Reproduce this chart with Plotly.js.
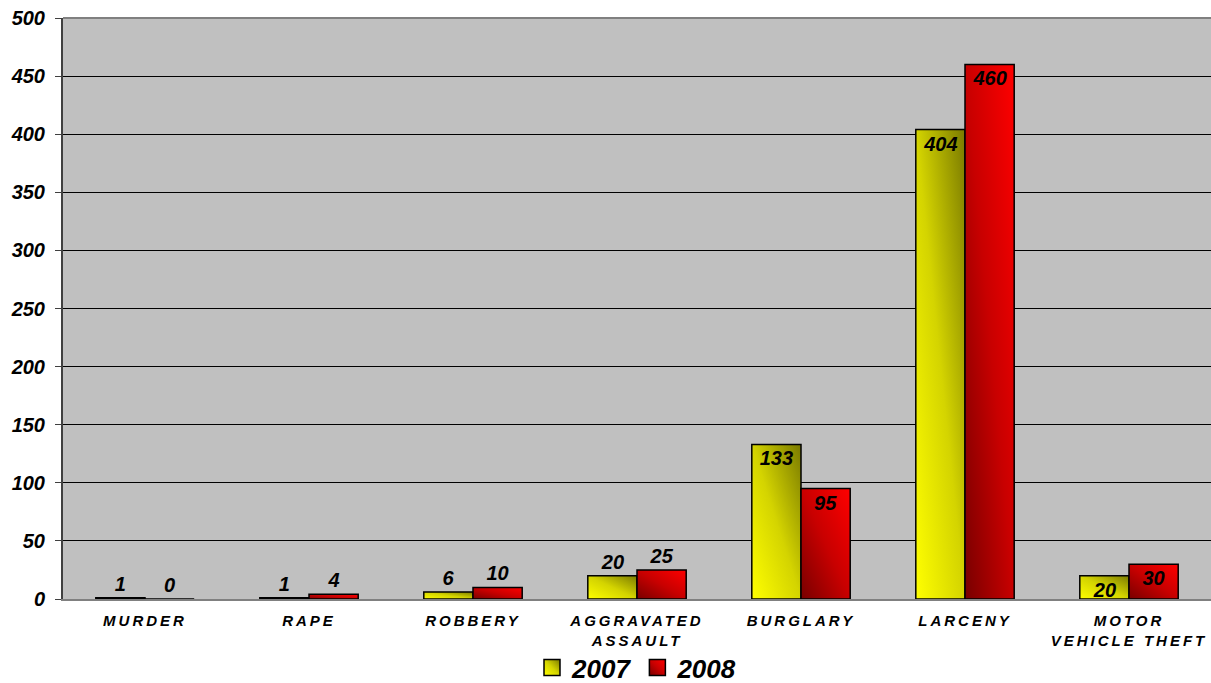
<!DOCTYPE html>
<html>
<head>
<meta charset="utf-8">
<script src="https://cdn.plot.ly/plotly-3.0.1.min.js"></script>
<style>
html,body{margin:0;padding:0;background:#fff;}
#chart{width:1211px;height:683px;}
.xtick text{letter-spacing:3px;}
.ytick text, .xtick text, .legendtext, .bartext{font-style:italic !important;font-weight:bold !important;}
</style>
</head>
<body>
<div id="chart"></div>
<script>
const categories = ["MURDER", "RAPE", "ROBBERY", "AGGRAVATED<br>ASSAULT", "BURGLARY", "LARCENY", "MOTOR<br>VEHICLE THEFT"];
const values2007 = [1, 1, 6, 20, 133, 404, 20];
const values2008 = [0, 4, 10, 25, 95, 460, 30];
const labelPos2007 = ["outside", "outside", "outside", "outside", "inside", "inside", "inside"];
const labelPos2008 = ["outside", "outside", "outside", "outside", "inside", "inside", "inside"];
const yTicks = [0, 50, 100, 150, 200, 250, 300, 350, 400, 450, 500];

const labelFont = {family: "Liberation Sans, Arial, sans-serif", size: 20, color: "#000", weight: "bold", style: "italic"};

const traces = [
  {
    type: "bar", name: "2007", x: categories, y: values2007,
    text: values2007.map(String), textposition: labelPos2007,
    insidetextanchor: "end", textangle: 0, constraintext: "none",
    textfont: labelFont, insidetextfont: labelFont, outsidetextfont: labelFont,
    cliponaxis: false,
    marker: {color: "#E0E000", line: {color: "#000", width: 1.5}}
  },
  {
    type: "bar", name: "2008", x: categories, y: values2008,
    text: values2008.map(String), textposition: labelPos2008,
    insidetextanchor: "end", textangle: 0, constraintext: "none",
    textfont: labelFont, insidetextfont: labelFont, outsidetextfont: labelFont,
    cliponaxis: false,
    marker: {color: "#D00000", line: {color: "#000", width: 1.5}}
  }
];

const layout = {
  width: 1211, height: 683,
  margin: {l: 63, r: 0, t: 18, b: 84, pad: 0, autoexpand: false},
  paper_bgcolor: "#ffffff",
  plot_bgcolor: "#C0C0C0",
  barmode: "group",
  bargap: 0.4, bargroupgap: 0,
  showlegend: true,
  uniformtext: {minsize: 20, mode: "show"},
  legend: {
    orientation: "h", x: 0.5, xanchor: "center", y: -0.143, yanchor: "bottom",
    font: {family: "Liberation Sans, Arial, sans-serif", size: 26, color: "#000", weight: "bold", style: "italic"},
    itemwidth: 30, bgcolor: "rgba(0,0,0,0)", traceorder: "normal"
  },
  xaxis: {
    type: "category",
    showgrid: false, zeroline: false,
    showline: true, linecolor: "#808080", linewidth: 2,
    ticks: "", ticklabelstandoff: 7,
    tickfont: {family: "Liberation Sans, Arial, sans-serif", size: 15, color: "#000", weight: "bold", style: "italic"}
  },
  yaxis: {
    range: [0, 500], tickvals: yTicks, ticktext: yTicks.map(String),
    showgrid: true, gridcolor: "#000000", gridwidth: 1,
    zeroline: false,
    showline: true, linecolor: "#404040", linewidth: 2,
    ticks: "outside", ticklen: 6, tickcolor: "#404040", tickwidth: 1,
    ticklabelstandoff: 6,
    tickfont: {family: "Liberation Sans, Arial, sans-serif", size: 20, color: "#000", weight: "bold", style: "italic"}
  },
  shapes: [
    {type: "line", xref: "paper", yref: "paper", x0: 0, x1: 1, y0: 1, y1: 1, line: {color: "#808080", width: 2}}
  ]
};

function addGradients(gd) {
  const svgNS = "http://www.w3.org/2000/svg";
  const svg = gd.querySelector(".main-svg");
  let defs = svg.querySelector("defs");
  if (!defs) { defs = document.createElementNS(svgNS, "defs"); svg.insertBefore(defs, svg.firstChild); }
  const grads = [
    {id: "grad2007", stops: [[0, "#FFFF00"], [0.5, "#D4D400"], [1, "#7A7A00"]]},
    {id: "grad2008", stops: [[0, "#780000"], [0.5, "#C80000"], [1, "#FF0000"]]}
  ];
  grads.forEach(g => {
    const lg = document.createElementNS(svgNS, "linearGradient");
    lg.setAttribute("id", g.id);
    lg.setAttribute("x1", "0"); lg.setAttribute("y1", "1");
    lg.setAttribute("x2", "1"); lg.setAttribute("y2", "0");
    g.stops.forEach(s => {
      const st = document.createElementNS(svgNS, "stop");
      st.setAttribute("offset", String(s[0])); st.setAttribute("stop-color", s[1]);
      lg.appendChild(st);
    });
    defs.appendChild(lg);
  });
  const traceGroups = gd.querySelectorAll(".barlayer .trace");
  traceGroups.forEach((tg, i) => {
    tg.querySelectorAll("path").forEach(p => { p.style.fill = "url(#" + grads[i].id + ")"; });
  });
  const legendTraces = gd.querySelectorAll(".legend .traces");
  legendTraces.forEach((lt, i) => {
    lt.querySelectorAll(".legendpoints path").forEach(p => {
      p.style.fill = "url(#" + grads[i].id + ")";
      p.setAttribute("d", "M8,8H-8V-8H8Z");
    });
  });
  // nudge the legend down to sit where the reference has it
  const leg = gd.querySelector(".legend");
  if (leg) {
    const tr = leg.getAttribute("transform") || "";
    const m = tr.match(/translate\(\s*([-\d.]+)[ ,]+([-\d.]+)\s*\)/);
    if (m) leg.setAttribute("transform", "translate(" + m[1] + "," + (parseFloat(m[2]) + 9) + ")");
  }
}

Plotly.newPlot("chart", traces, layout, {displayModeBar: false, responsive: false}).then(addGradients);
</script>
</body>
</html>
